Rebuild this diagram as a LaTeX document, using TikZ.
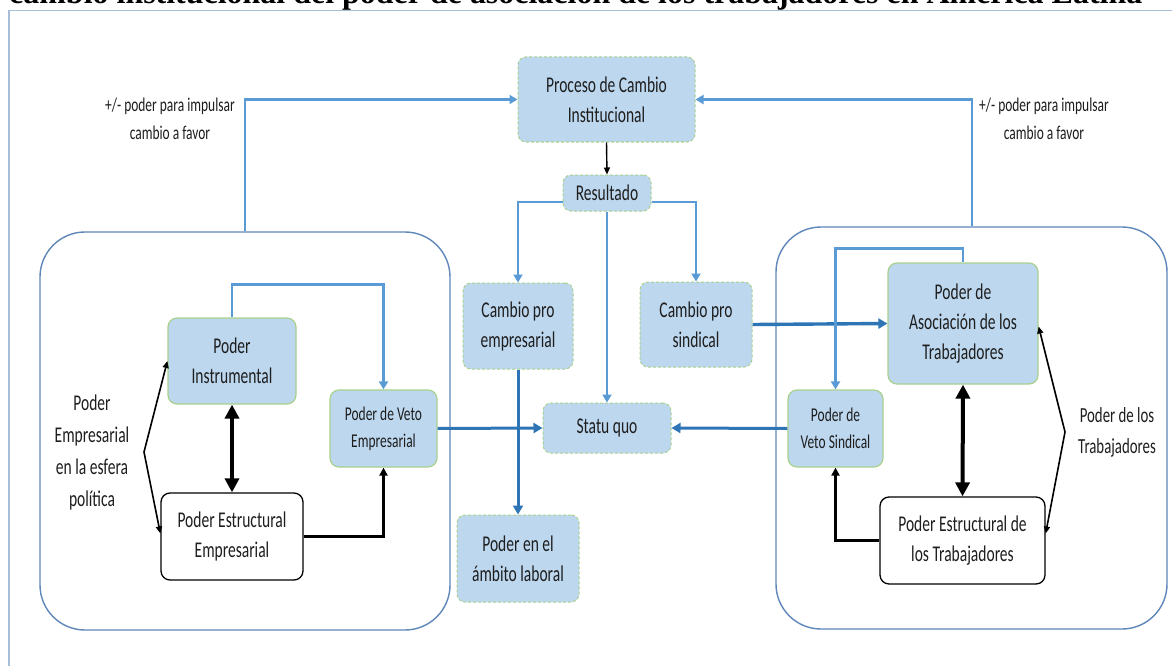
\documentclass[tikz,border=0pt]{standalone}
\usepackage{graphicx}
\usepackage{fontspec}
\setmainfont{Carlito}[FakeStretch=0.69]
\newfontfamily\titlefont{Liberation Serif}
\usetikzlibrary{arrows.meta,calc}

\definecolor{boxfill}{RGB}{189,215,238}
\definecolor{boxedge}{RGB}{169,209,142}
\definecolor{lightline}{RGB}{91,155,213}
\definecolor{darkline}{RGB}{46,117,182}
\definecolor{groupedge}{RGB}{95,135,185}
\definecolor{frameline}{RGB}{168,190,216}
\definecolor{ink}{RGB}{30,30,30}

\tikzset{
  bigtext/.style={font={\fontsize{22.5}{30}\selectfont}, text=ink, align=center},
  smalltext/.style={font={\fontsize{19.5}{27}\selectfont}, text=ink, align=center},
  outcome/.style={bigtext, rectangle, rounded corners=8pt, fill=boxfill, draw=boxedge,
    line width=1pt, dash pattern=on 3pt off 2pt, inner sep=0pt},
  powerbox/.style={bigtext, rectangle, rounded corners=9pt, fill=boxfill, draw=boxedge,
    line width=1.2pt, inner sep=0pt},
  structbox/.style={bigtext, rectangle, rounded corners=9pt, fill=white, draw=black,
    line width=1.3pt, inner sep=0pt},
  group/.style={rectangle, rounded corners=45pt, draw=groupedge, line width=1.4pt, inner sep=0pt},
  lightarrow/.style={draw=lightline, line width=2.6pt, -{Triangle[length=8pt,width=9pt]}},
  darkarrow/.style={draw=darkline, line width=3pt, -{Triangle[length=9pt,width=10pt]}},
  thinarrow/.style={draw=black, line width=1.6pt, -{Triangle[length=7pt,width=6pt]}},
  heavyarrow/.style={draw=black, line width=3.4pt, -{Triangle[length=8pt,width=8pt]}},
  twoway/.style={draw=black, line width=4pt,
    {Triangle[length=14pt,width=14pt]}-{Triangle[length=14pt,width=14pt]}},
}

\begin{document}
\begin{tikzpicture}[x=1pt,y=-1pt]
\clip (0,0) rectangle (1172,666);
\fill[white] (0,0) rectangle (1172,666);

% heading line, cut by the top edge
\node[anchor=base west, inner sep=0pt] (title) at (9,4)
  {\resizebox{1133pt}{!}{\titlefont\bfseries cambio institucional del poder de asociaci\'on de los trabajadores en Am\'erica Latina}};

% outer frame
\draw[frameline, line width=1.8pt] (1172,10.5) -- (9,10.5) -- (9,666);

% group containers
\node[group, minimum width=410pt, minimum height=398pt] (leftgroup) at (245,431) {};
\node[group, minimum width=391pt, minimum height=402pt] (rightgroup) at (971.5,428) {};

% central chain
\node[outcome, minimum width=177pt, minimum height=85pt] (proc) at (606.5,99.5)
  {Proceso de Cambio\\Institucional};
\node[outcome, minimum width=88pt, minimum height=36pt] (res) at (607,193) {Resultado};
\node[outcome, minimum width=110pt, minimum height=86pt] (cpe) at (518,326)
  {Cambio pro\\empresarial};
\node[outcome, minimum width=112pt, minimum height=85pt] (cps) at (696,324.5)
  {Cambio pro\\sindical};
\node[outcome, minimum width=128pt, minimum height=50pt] (sq) at (607,428) {Statu quo};
\node[outcome, minimum width=122pt, minimum height=87pt] (pal) at (518,558.5)
  {Poder en el\\\'ambito laboral};

% business side
\node[powerbox, minimum width=128pt, minimum height=86pt] (pinst) at (232,361)
  {Poder\\Instrumental};
\node[powerbox, smalltext, minimum width=107pt, minimum height=77pt] (pve) at (383.5,428.5)
  {Poder de Veto\\Empresarial};
\node[structbox, minimum width=142pt, minimum height=87pt] (pee) at (232,536.5)
  {Poder Estructural\\Empresarial};
\node[bigtext, font={\fontsize{22.5}{32}\selectfont}] (lblemp) at (92,452)
  {Poder\\Empresarial\\en la esfera\\pol\'itica};
\coordinate (forkemp) at (144,452);

% worker side
\node[powerbox, minimum width=150pt, minimum height=121pt] (pat) at (963,323.5)
  {Poder de\\Asociaci\'on de los\\Trabajadores};
\node[powerbox, smalltext, minimum width=95pt, minimum height=77pt] (pvs) at (835.5,428.5)
  {Poder de\\Veto Sindical};
\node[structbox, minimum width=165pt, minimum height=87pt] (pet) at (962.5,540.5)
  {Poder Estructural de\\los Trabajadores};
\node[bigtext, font={\fontsize{21.5}{31}\selectfont}] (lbltra) at (1117,432)
  {Poder de los\\Trabajadores};
\coordinate (forktra) at (1065,432);

% feedback labels
\node[smalltext, font={\fontsize{19.5}{28}\selectfont}] (lblleft) at (170,119)
  {+/- poder para impulsar\\cambio a favor};
\node[smalltext, font={\fontsize{19.5}{28}\selectfont}] (lblright) at (1044,119)
  {+/- poder para impulsar\\cambio a favor};

% feedback into the institutional change process
\draw[lightarrow] (245,0 |- leftgroup.north) |- (proc.west);
\draw[lightarrow] (972,0 |- rightgroup.north) |- (proc.east);

% outcomes
\draw[thinarrow, line width=1.4pt] (proc.south) -- (res.north);
\draw[lightarrow] ([yshift=-9pt]res.west) -| (cpe.north);
\draw[lightarrow] ([yshift=-9pt]res.east) -| (cps.north);
\draw[lightarrow] (res.south) -- (sq.north);
\draw[darkarrow] (cpe.south) -- (pal.north);
\draw[darkarrow] (pve.east) -- (sq.west);
\draw[darkarrow] (pvs.west) -- (sq.east);
\draw[darkarrow, line width=3.4pt] (cps.east) -- (pat.west);

% inside the business group
\draw[lightarrow] (pinst.north) -- ++(0,-33) -| (pve.north);
\draw[heavyarrow] (pee.east) -| (pve.south);
\draw[twoway] (pinst.south) -- (pee.north);
\draw[thinarrow] (forkemp) -- (pinst.west);
\draw[thinarrow] (forkemp) -- ([yshift=3pt]pee.west);

% inside the worker group
\draw[lightarrow] (pat.north) -- ++(0,-14) -| (pvs.north);
\draw[heavyarrow] (pet.west) -| (pvs.south);
\draw[twoway] (pat.south) -- (pet.north);
\draw[thinarrow] (forktra) -- ([yshift=-3pt]pat.east);
\draw[thinarrow] (forktra) -- ([yshift=7pt]pet.east);
\end{tikzpicture}
\end{document}
